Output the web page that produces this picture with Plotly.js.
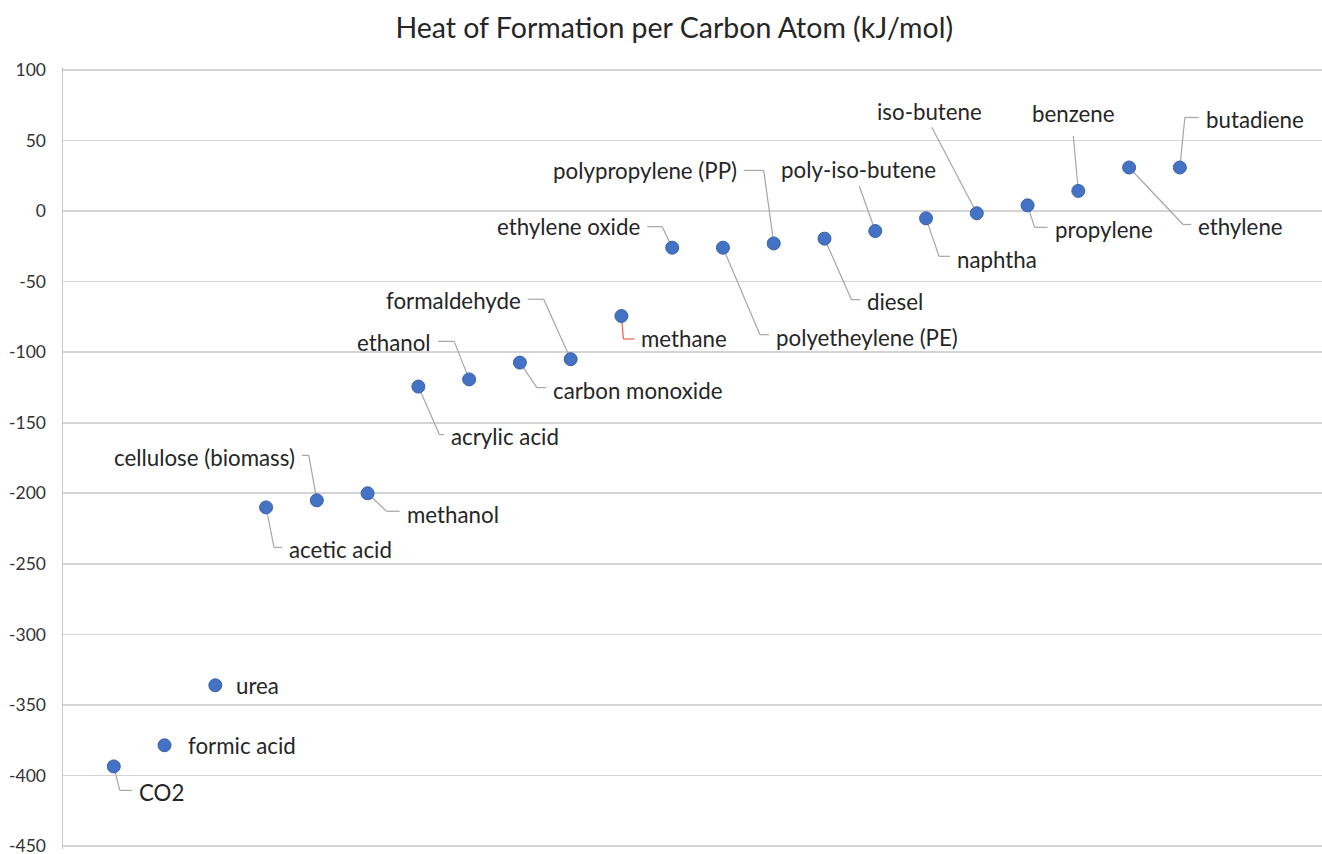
<!DOCTYPE html>
<html>
<head>
<meta charset="utf-8">
<script src="https://cdn.plot.ly/plotly-3.0.1.min.js"></script>
<style>html,body{margin:0;padding:0;background:#fff;}#chart{width:1322px;height:854px;}</style>
</head>
<body>
<div id="chart"></div>
<script>
// ---- data ----
const chartTitle = "Heat of Formation per Carbon Atom (kJ/mol)";
const compounds = [
  "CO2", "formic acid", "urea", "acetic acid", "cellulose (biomass)", "methanol",
  "acrylic acid", "ethanol", "carbon monoxide", "formaldehyde", "methane",
  "ethylene oxide", "polyetheylene (PE)", "polypropylene (PP)", "diesel",
  "poly-iso-butene", "naphtha", "iso-butene", "propylene", "benzene", "ethylene", "butadiene"
];
const heatPerCarbon = [
  -393.5, -378.5, -336, -210, -205, -200,
  -124.4, -119.3, -107.4, -105, -74.4,
  -26, -26, -23, -19.6,
  -14.2, -5.2, -1.6, 4, 14.2, 30.8, 30.8
];
const yTickValues = [100, 50, 0, -50, -100, -150, -200, -250, -300, -350, -400, -450];

// ---- label placement (pixel offsets from each point, screen y down) ----
// [elbowX, elbowY, textX, textY, mode]  mode: L = text right of tick, R = text left of tick,
// N = no leader, U = leader straight to a centred label
const labelPlacement = [
  [6, 24, 23, 26, "L"],
  [0, 0, 21, 0, "N"],
  [0, 0, 19, 0, "N"],
  [8, 40, 21, 42, "L"],
  [-8, -45, -20, -43, "R"],
  [19, 18, 37, 21, "L"],
  [21, 48, 31, 50, "L"],
  [-15, -38, -36, -37, "R"],
  [17, 25, 31, 28, "L"],
  [-27, -60, -48, -59, "R"],
  [2, 23, 18, 22, "L"],
  [-10, -21, -30, -21, "R"],
  [37, 87, 51, 90, "L"],
  [-10, -73, -35, -73, "R"],
  [27, 61, 41, 63, "L"],
  [-16, -45, -17, -62, "U"],
  [13, 38, 29, 41, "L"],
  [-45, -86, -47, -102, "U"],
  [7, 22, 25, 24, "L"],
  [-5, -55, -5, -77, "U"],
  [54, 57, 67, 59, "L"],
  [5, -50, 24, -48, "L"]
];

const xPos = compounds.map((_, i) => i + 1);
const FONT = "Lato, 'DejaVu Sans', sans-serif";
const leaderGrey = "#a6a6a6";

const shapes = [];
const annotations = [];
compounds.forEach((name, i) => {
  const [ex, ey, tx, ty, mode] = labelPlacement[i];
  const color = name === "methane" ? "#e8604c" : leaderGrey;
  const base = {type: "line", xref: "x", yref: "y", xsizemode: "pixel", ysizemode: "pixel",
    xanchor: xPos[i], yanchor: heatPerCarbon[i], layer: "between", line: {color: color, width: 1.2}};
  if (mode !== "N") {
    shapes.push(Object.assign({}, base, {x0: 0, y0: 0, x1: ex, y1: -ey}));
  }
  if (mode === "L" || mode === "R") {
    const sign = mode === "L" ? 1 : -1;
    shapes.push(Object.assign({}, base, {x0: ex, y0: -ey, x1: tx - sign * 5, y1: -ey}));
  }
  annotations.push({
    x: xPos[i], y: heatPerCarbon[i], xref: "x", yref: "y",
    text: name, showarrow: false,
    xshift: tx, yshift: -ty,
    xanchor: mode === "R" ? "right" : (mode === "U" ? "center" : "left"),
    yanchor: "middle",
    font: {family: FONT, size: 22.3, color: "#262626"}
  });
});

const trace = {
  type: "scatter", mode: "markers",
  x: xPos, y: heatPerCarbon, text: compounds,
  marker: {size: 13, color: "#4472C4", line: {color: "#3a62a8", width: 1}},
  hoverinfo: "text+y", showlegend: false
};

const layout = {
  width: 1322, height: 854,
  margin: {l: 63, r: 0, t: 67, b: 5},
  paper_bgcolor: "#ffffff", plot_bgcolor: "#ffffff",
  title: {text: chartTitle, xref: "container", x: 0.51, xanchor: "center",
    yref: "container", y: 0.967, yanchor: "middle",
    font: {family: FONT, size: 28.5, color: "#262626"}},
  xaxis: {range: [0, 24.8], showgrid: false, zeroline: false, showticklabels: false,
    showline: false, ticks: ""},
  yaxis: {range: [-452, 102], tickvals: yTickValues, ticktext: yTickValues.map(String),
    showgrid: true, gridcolor: "#d4d4d4", gridwidth: 1.6, zeroline: false,
    showline: true, linecolor: "#c8c8c8", linewidth: 1.5, ticks: "",
    ticklabelstandoff: 12, ticklabeloverflow: "allow",
    tickfont: {family: FONT, size: 17.5, color: "#333333"}},
  shapes: shapes,
  annotations: annotations
};

Plotly.newPlot("chart", [trace], layout, {displayModeBar: false, staticPlot: true});
</script>
</body>
</html>
